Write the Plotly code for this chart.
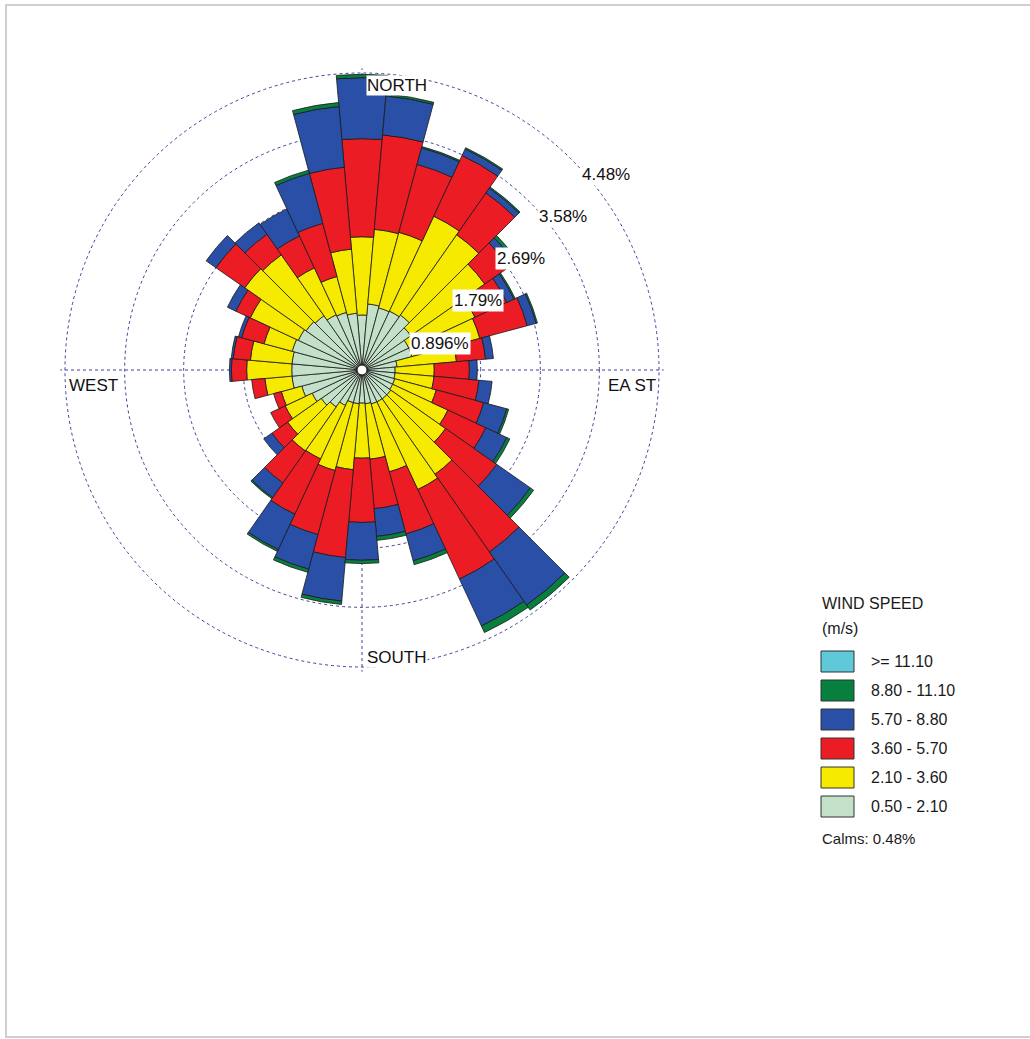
import plotly.graph_objects as go

# ---------------- data (percent of time, per 10-degree sector) ----------------
directions = [0, 10, 20, 30, 40, 50, 60, 70, 80, 90, 100, 110, 120, 130, 140, 150, 160, 170,
              180, 190, 200, 210, 220, 230, 240, 250, 260, 270, 280, 290, 300, 310, 320, 330, 340, 350]

speed_bins = ["0.50 - 2.10", "2.10 - 3.60", "3.60 - 5.70", "5.70 - 8.80", "8.80 - 11.10", ">= 11.10"]

freq_050_210 = [0.83, 1.00, 0.97, 0.98, 1.01, 0.90, 0.78, 0.78, 0.53, 0.50, 0.50, 0.51,
                0.51, 0.53, 0.53, 0.53, 0.53, 0.51, 0.50, 0.51, 0.51, 0.59, 0.68, 0.75,
                0.83, 0.94, 1.06, 1.06, 1.06, 1.09, 1.06, 1.03, 1.00, 0.92, 0.90, 0.86]
freq_210_360 = [1.18, 1.13, 1.18, 1.58, 1.48, 1.36, 1.10, 1.06, 0.90, 0.59, 0.59, 0.65,
                0.92, 1.01, 1.39, 1.46, 1.06, 0.84, 0.83, 1.00, 1.06, 0.89, 0.81, 0.62,
                0.45, 0.32, 0.41, 0.68, 0.63, 0.44, 0.80, 1.13, 1.12, 0.78, 0.56, 0.97]
freq_360_570 = [1.48, 1.43, 1.06, 1.01, 0.77, 0.45, 0.53, 0.74, 0.44, 0.53, 0.68, 0.74,
                0.63, 0.94, 1.43, 1.49, 0.97, 0.75, 0.97, 1.33, 1.00, 0.92, 0.59, 0.29,
                0.24, 0.12, 0.20, 0.23, 0.26, 0.35, 0.24, 0.53, 0.38, 0.53, 0.83, 1.24]
freq_570_880 = [0.92, 0.59, 0.26, 0.11, 0.09, 0.11, 0.12, 0.14, 0.12, 0.12, 0.20, 0.36,
                0.35, 0.62, 0.98, 0.78, 0.42, 0.42, 0.57, 0.66, 0.54, 0.59, 0.27, 0.15,
                0.00, 0.00, 0.00, 0.03, 0.03, 0.05, 0.14, 0.18, 0.21, 0.45, 0.78, 0.92]
freq_880_1110 = [0.05, 0.03, 0.02, 0.02, 0.02, 0.05, 0.02, 0.02, 0.00, 0.00, 0.00, 0.03,
                 0.05, 0.06, 0.09, 0.11, 0.06, 0.06, 0.05, 0.05, 0.05, 0.03, 0.02, 0.00,
                 0.00, 0.00, 0.00, 0.00, 0.00, 0.00, 0.00, 0.00, 0.00, 0.00, 0.05, 0.06]
freq_ge_1110 = [0.00, 0.00, 0.00, 0.00, 0.00, 0.00, 0.00, 0.00, 0.00, 0.00, 0.00, 0.00,
                0.00, 0.00, 0.00, 0.00, 0.00, 0.00, 0.00, 0.00, 0.00, 0.00, 0.00, 0.00,
                0.00, 0.00, 0.00, 0.00, 0.00, 0.00, 0.00, 0.00, 0.00, 0.00, 0.00, 0.00]

ring_values = [0.896, 1.79, 2.69, 3.58, 4.48]
ring_labels = ["0.896%", "1.79%", "2.69%", "3.58%", "4.48%"]
compass_labels = ["NORTH", "EA ST", "SOUTH", "WEST"]
calms_pct = 0.48

# ---------------- styling ----------------
colors = ["#c3e0c9", "#f5ea00", "#ec1c24", "#2a4fa6", "#07803f", "#5fc8d9"]
series = [freq_050_210, freq_210_360, freq_360_570, freq_570_880, freq_880_1110, freq_ge_1110]
FONT = "Liberation Sans, Arial, sans-serif"
GRID = "#40409a"

W, H = 1030, 1039
CX, CY = 362.0, 370.0
PX_PER_PCT = 66.3
RMAX = 4.55
R = RMAX * PX_PER_PCT


def px(x):
    return x / W


def py(y):
    return 1 - y / H


fig = go.Figure()
for name, vals, col in zip(speed_bins, series, colors):
    fig.add_trace(go.Barpolar(
        r=vals, theta=directions, width=[10] * len(directions), name=name,
        marker=dict(color=col, line=dict(color="#1a1a1a", width=0.8)),
        showlegend=False,
    ))

fig.update_layout(
    width=W, height=H,
    margin=dict(l=0, r=0, t=0, b=0, pad=0),
    paper_bgcolor="white",
    font=dict(family=FONT, size=16, color="#1a1a1a"),
    polar=dict(
        domain=dict(x=[px(CX - R), px(CX + R)], y=[py(CY + R), py(CY - R)]),
        bgcolor="white",
        barmode="stack",
        radialaxis=dict(range=[0, RMAX], tickvals=ring_values, showticklabels=False,
                        ticks="", showline=False, showgrid=True, gridcolor=GRID,
                        gridwidth=1.2, griddash="dot"),
        angularaxis=dict(rotation=90, direction="clockwise", tickvals=[0, 90, 180, 270],
                         showticklabels=False, ticks="", showline=False, showgrid=True,
                         gridcolor=GRID, gridwidth=1.2, griddash="dot"),
    ),
)

annotations = []
shapes = []

# compass labels (inside the outer ring)
comp_pos = [(366, 85, "left"), (657, 385, "right"), (366, 657, "left"), (68, 385, "left")]
for lab, (x, y, anc) in zip(compass_labels, comp_pos):
    annotations.append(dict(text=lab, x=px(x), y=py(y), xref="paper", yref="paper",
                            xanchor=anc, yanchor="middle", showarrow=False,
                            bgcolor="white", borderpad=0,
                            font=dict(family=FONT, size=17, color="#111111")))

# ring labels
for k, lab in enumerate(ring_labels):
    x = 409 + k * 42.8
    y = 343 - k * 42.2
    annotations.append(dict(text=lab, x=px(x), y=py(y), xref="paper", yref="paper",
                            xanchor="left", yanchor="middle", showarrow=False,
                            bgcolor="white", borderpad=1,
                            font=dict(family=FONT, size=17, color="#111111")))

# centre hole
hr = 5
shapes.append(dict(type="circle", xref="paper", yref="paper",
                   x0=px(CX - hr), x1=px(CX + hr), y0=py(CY + hr), y1=py(CY - hr),
                   fillcolor="white", line=dict(color="#111111", width=1)))

# legend
LX = 821
annotations.append(dict(text="WIND SPEED", x=px(LX - 1), y=py(603), xref="paper", yref="paper",
                        xanchor="left", yanchor="middle", showarrow=False,
                        font=dict(family=FONT, size=16, color="#1a1a1a")))
annotations.append(dict(text="(m/s)", x=px(LX - 1), y=py(628), xref="paper", yref="paper",
                        xanchor="left", yanchor="middle", showarrow=False,
                        font=dict(family=FONT, size=16, color="#1a1a1a")))
for i, (name, col) in enumerate(zip(speed_bins[::-1], colors[::-1])):
    top = 651 + i * 29
    shapes.append(dict(type="rect", xref="paper", yref="paper",
                       x0=px(LX), x1=px(LX + 33), y0=py(top + 21), y1=py(top),
                       fillcolor=col, line=dict(color="#333333", width=1)))
    annotations.append(dict(text=name, x=px(869), y=py(top + 10.5), xref="paper", yref="paper",
                            xanchor="left", yanchor="middle", showarrow=False,
                            font=dict(family=FONT, size=16, color="#1a1a1a")))
annotations.append(dict(text=f"Calms: {calms_pct:.2f}%", x=px(LX - 1), y=py(838),
                        xref="paper", yref="paper", xanchor="left", yanchor="middle",
                        showarrow=False, font=dict(family=FONT, size=15, color="#1a1a1a")))

# picture frame
shapes.append(dict(type="rect", xref="paper", yref="paper",
                   x0=px(6), x1=px(1045), y0=py(1037), y1=py(5),
                   line=dict(color="#cfcfcf", width=2), fillcolor="rgba(0,0,0,0)"))

fig.update_layout(annotations=annotations, shapes=shapes)
fig.write_html("out.html")
